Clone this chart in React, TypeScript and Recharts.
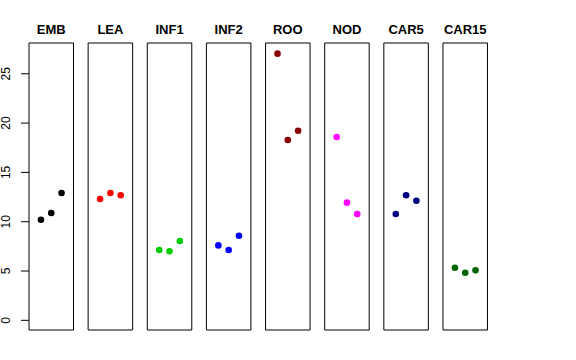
import { ReferenceArea, Scatter, ScatterChart, XAxis, YAxis } from "recharts";

const categories = ["EMB", "LEA", "INF1", "INF2", "ROO", "NOD", "CAR5", "CAR15"];
const colors = ["#000000", "#ff0000", "#00cd00", "#0000ff", "#8b0000", "#ff00ff", "#000080", "#006400"];
const replicates = [1, 2, 3];

const emb = [10.2, 10.88, 12.91];
const lea = [12.3, 12.91, 12.68];
const inf1 = [7.13, 7.0, 8.04];
const inf2 = [7.6, 7.13, 8.58];
const roo = [27.04, 18.29, 19.23];
const nod = [18.59, 11.93, 10.78];
const car5 = [10.78, 12.68, 12.13];
const car15 = [5.33, 4.83, 5.07];

const series = [emb, lea, inf1, inf2, roo, nod, car5, car15];
const yTicks = [0, 5, 10, 15, 20, 25];

const W = 576;
const H = 360;
const X_DOMAIN: [number, number] = [-0.16, 4.16];
const Y_DOMAIN: [number, number] = [-0.98, 28.12];
const PANEL_LEFT = 29;
const PANEL_STEP = 59.14;
const PANEL_W = 44.5;
const TOP = 43;
const BOTTOM = 30;
const AXIS_W = 29;

function YTick(props: any) {
  const { x, y, payload } = props;
  return (
    <text
      x={x - 9}
      y={y}
      transform={`rotate(-90, ${x - 9}, ${y})`}
      textAnchor="middle"
      fontSize={12}
      fill="#000"
      fontFamily="Liberation Sans, Arial, sans-serif"
    >
      {payload.value}
    </text>
  );
}

function Panel({ index }: { index: number }) {
  const left = PANEL_LEFT + index * PANEL_STEP;
  const first = index === 0;
  const data = replicates.map((r, i) => ({ x: r, y: series[index][i] }));
  const color = colors[index];
  return (
    <div style={{ position: "absolute", left: 0, top: 0 }}>
      <ScatterChart
        width={W}
        height={H}
        margin={{
          top: TOP,
          bottom: BOTTOM,
          left: first ? 0 : left,
          right: W - left - PANEL_W,
        }}
      >
        <XAxis type="number" dataKey="x" domain={X_DOMAIN} hide />
        <YAxis
          type="number"
          dataKey="y"
          domain={Y_DOMAIN}
          ticks={yTicks}
          hide={!first}
          width={AXIS_W}
          axisLine={false}
          tickSize={8}
          tickLine={{ stroke: "#000" }}
          tick={<YTick />}
        />
        <ReferenceArea
          x1={X_DOMAIN[0]}
          x2={X_DOMAIN[1]}
          y1={Y_DOMAIN[0]}
          y2={Y_DOMAIN[1]}
          fill="none"
          stroke="#000"
          strokeOpacity={1}
          fillOpacity={0}
          label={{
            value: categories[index],
            position: "top",
            offset: 9,
            fontSize: 13,
            fontWeight: "bold",
            fill: "#000",
            fontFamily: "Liberation Sans, Arial, sans-serif",
          }}
        />
        <Scatter
          data={data}
          isAnimationActive={false}
          shape={(p: any) => <circle cx={p.cx} cy={p.cy} r={3.3} fill={color} />}
        />
      </ScatterChart>
    </div>
  );
}

export default function App() {
  return (
    <div
      style={{
        position: "absolute",
        left: 0,
        top: 0,
        width: W,
        height: H,
        background: "#fff",
      }}
    >
      {categories.map((c, i) => (
        <Panel key={c} index={i} />
      ))}
    </div>
  );
}
